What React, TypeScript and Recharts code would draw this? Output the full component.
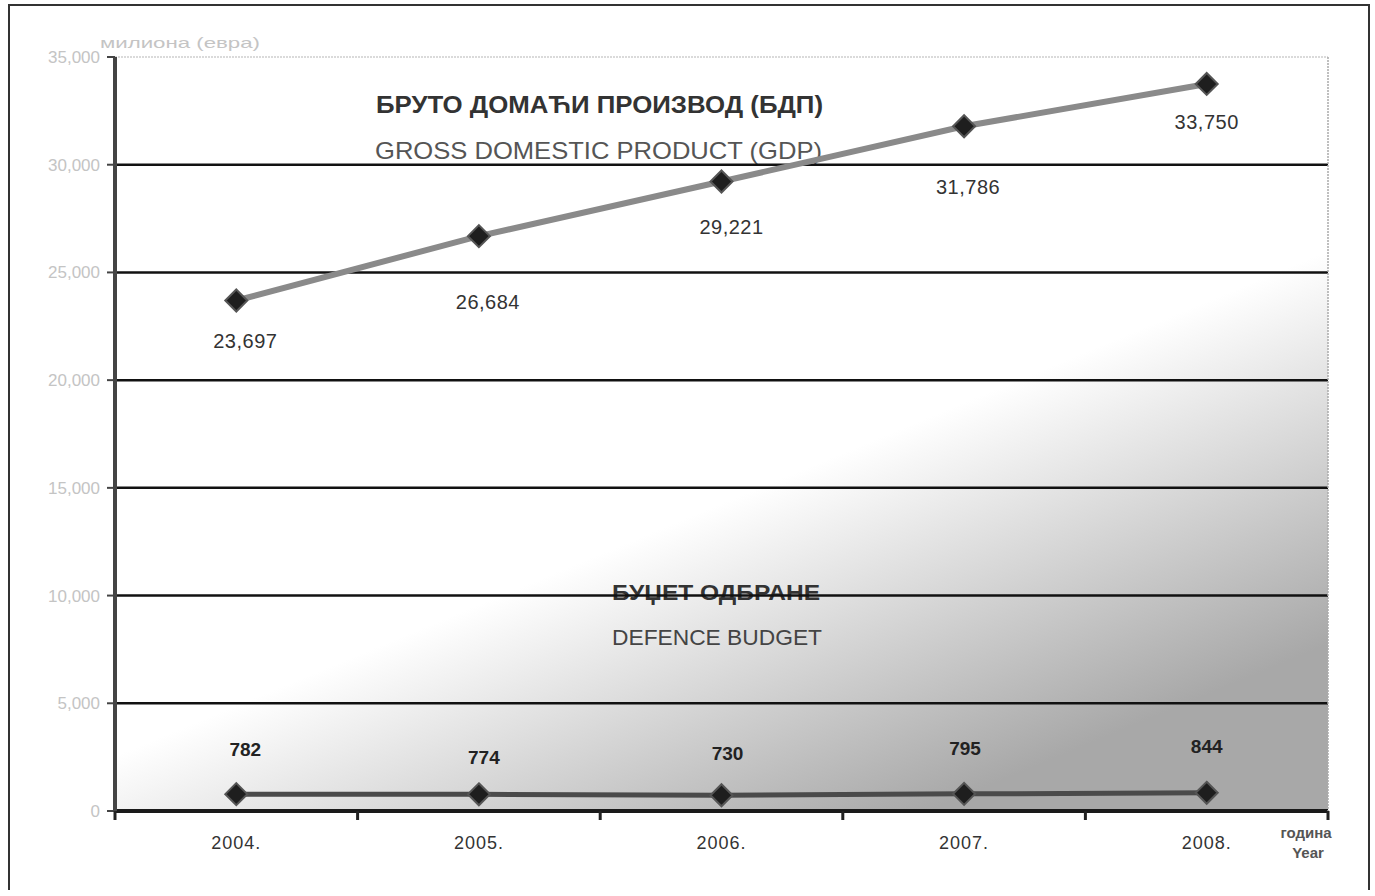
import React from 'react';
import {
  LineChart, Line, XAxis, YAxis, CartesianGrid, ReferenceLine, LabelList, Customized,
} from 'recharts';

// податоци: милиона евра
const years = ['2004.', '2005.', '2006.', '2007.', '2008.'];
const gdp = [23697, 26684, 29221, 31786, 33750];
const defence = [782, 774, 730, 795, 844];
const yTicks = [0, 5000, 10000, 15000, 20000, 25000, 30000, 35000];
const gridValues = [5000, 10000, 15000, 20000, 25000, 30000];

const data = years.map((year, i) => ({ year, gdp: gdp[i], defence: defence[i] }));

const W = 1358;
const H = 884;
const M = { top: 51, right: 0, left: 0, bottom: 0 };
const Y_W = 105;
const Y_R_W = 40;
const PLOT_W = W - Y_W - Y_R_W;
const BAND = PLOT_W / years.length;
const FONT = '"Liberation Sans", Arial, sans-serif';

// label nudges (Excel labels were dragged by hand)
const gdpLabelShift = [[9, 41], [9, 66], [10, 46], [4, 61], [0, 38]];
const defLabelShift = [[9, -45], [5, -37], [6, -42], [1, -45], [0, -46]];

const fmt = (v: number) => v.toLocaleString('en-US');

function Diamond(props: any) {
  const { cx, cy } = props;
  if (cx == null || cy == null) return null;
  const r = 11;
  return (
    <polygon
      points={`${cx},${cy - r} ${cx + r},${cy} ${cx},${cy + r} ${cx - r},${cy}`}
      fill="#1e1e1e"
      stroke="#555"
      strokeWidth={2}
    />
  );
}

function YearTick({ x, y, payload, index }: any) {
  const last = index === years.length - 1;
  return (
    <g>
      <line x1={x - BAND / 2} x2={x - BAND / 2} y1={y} y2={y + 9} stroke="#222" strokeWidth={3} />
      {last && <line x1={x + BAND / 2} x2={x + BAND / 2} y1={y} y2={y + 9} stroke="#222" strokeWidth={3} />}
      <text x={x} y={y + 38} textAnchor="middle" fontSize={18} fill="#333" fontFamily={FONT} letterSpacing={1}>
        {payload.value}
      </text>
    </g>
  );
}

const gdpLabel = (p: any) => {
  const [dx, dy] = gdpLabelShift[p.index] || [0, 40];
  return (
    <text x={p.x + dx} y={p.y + dy} textAnchor="middle" dominantBaseline="central"
      fontSize={20} fill="#333" fontFamily={FONT} letterSpacing={0.5}>
      {fmt(p.value)}
    </text>
  );
};

const defLabel = (p: any) => {
  const [dx, dy] = defLabelShift[p.index] || [0, -42];
  return (
    <text x={p.x + dx} y={p.y + dy} textAnchor="middle" dominantBaseline="central"
      fontSize={19} fontWeight="bold" fill="#222" fontFamily={FONT}>
      {fmt(p.value)}
    </text>
  );
};

function Annotations() {
  return (
    <g fontFamily={FONT}>
      <text x={90} y={42} fontSize={15} fill="#c4c4c4" textLength={160} lengthAdjust="spacingAndGlyphs">
        милиона (евра)
      </text>
      <text x={366} y={107} fontSize={23} fontWeight="bold" fill="#333" textLength={447} lengthAdjust="spacingAndGlyphs">
        БРУТО ДОМАЋИ ПРОИЗВОД (БДП)
      </text>
      <text x={365} y={153} fontSize={24} fill="#555" textLength={447} lengthAdjust="spacingAndGlyphs">
        GROSS DOMESTIC PRODUCT (GDP)
      </text>
      <text x={602} y={594} fontSize={22} fontWeight="bold" fill="#333" textLength={208} lengthAdjust="spacingAndGlyphs">
        БУЏЕТ ОДБРАНЕ
      </text>
      <text x={602} y={639} fontSize={22} fill="#444" textLength={210} lengthAdjust="spacingAndGlyphs">
        DEFENCE BUDGET
      </text>
      <text x={1296} y={832} fontSize={15} fontWeight="bold" fill="#555" textAnchor="middle">година</text>
      <text x={1298} y={852} fontSize={15} fontWeight="bold" fill="#555" textAnchor="middle">Year</text>
    </g>
  );
}

export default function App() {
  return (
    <div style={{
      position: 'absolute', left: 8, top: 4,
      width: W, height: H, border: '2px solid #333', borderBottom: 'none',
      background: '#fff', fontFamily: FONT, overflow: 'hidden',
    }}>
      <LineChart width={W} height={H} data={data} margin={M}>
        <defs>
          <linearGradient id="plotBg" x1="0" y1="0" x2="0.67" y2="1">
            <stop offset="0.64" stopColor="#ffffff" />
            <stop offset="1" stopColor="#a8a8a8" />
          </linearGradient>
        </defs>
        <CartesianGrid horizontal={false} vertical={false} fill="url(#plotBg)" fillOpacity={1} stroke="none" />
        {gridValues.map(v => (
          <ReferenceLine key={v} y={v} stroke="#111" strokeWidth={2.5} />
        ))}
        <ReferenceLine y={35000} stroke="#b5b5b5" strokeWidth={1} strokeDasharray="2 1" />
        <XAxis
          dataKey="year"
          padding={{ left: BAND / 2, right: BAND / 2 }}
          height={H - M.top - 754}
          axisLine={{ stroke: '#1a1a1a', strokeWidth: 4 }}
          tickLine={false}
          tickSize={0}
          tickMargin={0}
          tick={<YearTick />}
          interval={0}
        />
        <YAxis
          width={Y_W}
          domain={[0, 35000]}
          ticks={yTicks}
          interval={0}
          tickFormatter={fmt}
          axisLine={{ stroke: '#444', strokeWidth: 4 }}
          tickLine={{ stroke: '#444', strokeWidth: 2 }}
          tickSize={8}
          tickMargin={7}
          tick={{ fontSize: 17, fill: '#c4c4c4', fontFamily: FONT }}
        />
        <YAxis
          yAxisId="right"
          orientation="right"
          width={Y_R_W}
          domain={[0, 35000]}
          tick={false}
          tickLine={false}
          axisLine={{ stroke: '#aaa', strokeWidth: 1.5, strokeDasharray: '2 1' }}
        />
        <Customized component={Annotations} />
        <Line
          dataKey="gdp"
          type="linear"
          stroke="#8a8a8a"
          strokeWidth={6}
          dot={<Diamond />}
          activeDot={false}
          isAnimationActive={false}
        >
          <LabelList dataKey="gdp" content={gdpLabel} />
        </Line>
        <Line
          dataKey="defence"
          type="linear"
          stroke="#4a4a4a"
          strokeWidth={5}
          dot={<Diamond />}
          activeDot={false}
          isAnimationActive={false}
        >
          <LabelList dataKey="defence" content={defLabel} />
        </Line>
      </LineChart>
    </div>
  );
}
